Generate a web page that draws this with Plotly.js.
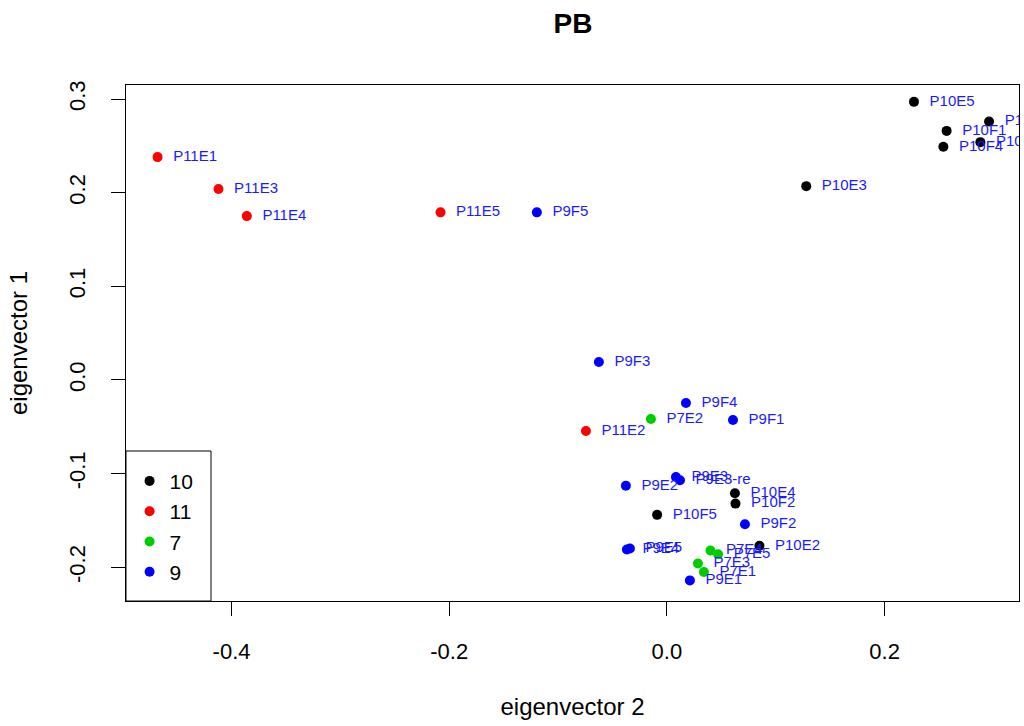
<!DOCTYPE html>
<html>
<head>
<meta charset="utf-8">
<script src="https://cdn.plot.ly/plotly-3.0.1.min.js"></script>
<style>html,body{margin:0;padding:0;background:#fff;}#chart{width:1024px;height:726px;}</style>
</head>
<body>
<div id="chart"></div>
<script>
// Group names (legend order)
const groupNames = ["10", "11", "7", "9"];
const groupColors = ["#000000", "#ff0000", "#00cd00", "#0000ff"];

// Group 10
const labels10 = ["P10E5", "P10F1", "P10E1", "P10F4", "P10F3", "P10E3", "P10E4", "P10F2", "P10F5", "P10E2"];
const ev2_10 = [0.227, 0.257, 0.296, 0.254, 0.288, 0.128, 0.0625, 0.063, -0.009, 0.085];
const ev1_10 = [0.297, 0.266, 0.276, 0.249, 0.254, 0.207, -0.121, -0.132, -0.144, -0.177];

// Group 11
const labels11 = ["P11E1", "P11E3", "P11E4", "P11E5", "P11E2"];
const ev2_11 = [-0.468, -0.412, -0.386, -0.208, -0.0744];
const ev1_11 = [0.238, 0.204, 0.175, 0.179, -0.0545];

// Group 7
const labels7 = ["P7E2", "P7E4", "P7E5", "P7E3", "P7E1"];
const ev2_7 = [-0.0147, 0.040, 0.047, 0.0285, 0.034];
const ev1_7 = [-0.0417, -0.182, -0.186, -0.196, -0.205];

// Group 9
const labels9 = ["P9F5", "P9F3", "P9F4", "P9F1", "P9E3", "P9E3-re", "P9E2", "P9F2", "P9E4", "P9E5", "P9E1"];
const ev2_9 = [-0.1195, -0.0625, 0.0175, 0.0607, 0.0083, 0.012, -0.0377, 0.0717, -0.0368, -0.034, 0.0211];
const ev1_9 = [0.179, 0.0192, -0.0246, -0.0427, -0.1036, -0.107, -0.113, -0.154, -0.181, -0.180, -0.214];

// Axis ticks
const xTickVals = [-0.4, -0.2, 0.0, 0.2];
const xTickText = ["-0.4", "-0.2", "0.0", "0.2"];
const yTickVals = [-0.2, -0.1, 0.0, 0.1, 0.2, 0.3];
const yTickText = ["-0.2", "-0.1", "0.0", "0.1", "0.2", "0.3"];

const groups = [
  {x: ev2_10, y: ev1_10, t: labels10},
  {x: ev2_11, y: ev1_11, t: labels11},
  {x: ev2_7, y: ev1_7, t: labels7},
  {x: ev2_9, y: ev1_9, t: labels9}
];

const FONT = "Liberation Sans, Arial, sans-serif";

const traces = groups.map((g, i) => ({
  type: "scatter",
  mode: "markers+text",
  name: groupNames[i],
  x: g.x,
  y: g.y,
  text: g.t.map(s => "\u00a0\u00a0" + s),
  textposition: "middle right",
  textfont: {family: FONT, size: 15, color: "#1a1aff"},
  marker: {color: groupColors[i], size: 10},
  cliponaxis: true,
  hoverinfo: "skip"
}));

const layout = {
  width: 1024,
  height: 726,
  paper_bgcolor: "#fff",
  plot_bgcolor: "#fff",
  margin: {l: 126, r: 5, t: 85, b: 125},
  title: {text: "<b>PB</b>", x: 0.5596, xanchor: "center", xref: "container",
          y: 0.968, yanchor: "middle", yref: "container",
          font: {family: FONT, size: 28, color: "#000"}},
  showlegend: true,
  legend: {x: 0.004, y: 0.016, xanchor: "left", yanchor: "bottom",
           borderwidth: 0, bgcolor: "rgba(0,0,0,0)",
           font: {family: FONT, size: 21, color: "#000"},
           itemwidth: 30, tracegroupgap: 0},
  shapes: [{type: "rect", xref: "paper", yref: "paper",
            x0: 0, x1: 0.0952, y0: 0, y1: 0.2907,
            line: {color: "#000", width: 1}, fillcolor: "rgba(0,0,0,0)"}],
  xaxis: {
    range: [-0.497, 0.3235], autorange: false,
    showgrid: false, zeroline: false,
    showline: true, linecolor: "#000", linewidth: 1, mirror: true,
    ticks: "outside", ticklen: 14, tickcolor: "#000", tickwidth: 1,
    tickmode: "array", tickvals: xTickVals, ticktext: xTickText,
    ticklabelstandoff: 17,
    tickfont: {family: FONT, size: 22, color: "#000"},
    title: {text: "eigenvector 2", font: {family: FONT, size: 24, color: "#000"}, standoff: 34}
  },
  yaxis: {
    range: [-0.236, 0.315], autorange: false,
    showgrid: false, zeroline: false,
    showline: true, linecolor: "#000", linewidth: 1, mirror: true,
    ticks: "outside", ticklen: 14, tickcolor: "#000", tickwidth: 1,
    tickmode: "array", tickvals: yTickVals, ticktext: yTickText,
    tickangle: -90,
    ticklabelstandoff: 17,
    tickfont: {family: FONT, size: 22, color: "#000"},
    title: {text: "eigenvector 1", font: {family: FONT, size: 24, color: "#000"}, standoff: 30}
  }
};

Plotly.newPlot("chart", traces, layout, {displayModeBar: false, staticPlot: true});
</script>
</body>
</html>
